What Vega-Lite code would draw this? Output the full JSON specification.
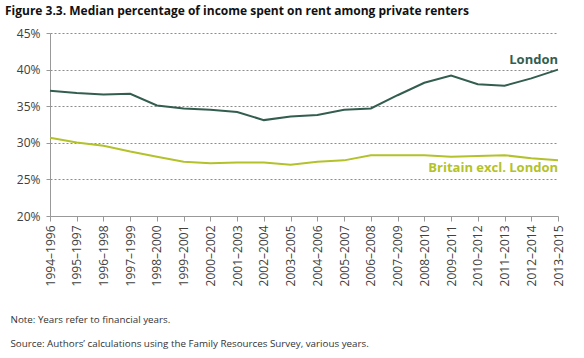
{
  "$schema": "https://vega.github.io/schema/vega-lite/v6.json",
  "width": 508,
  "height": 183,
  "autosize": {"type": "none"},
  "padding": {"left": 50, "top": 33, "right": 26, "bottom": 142},
  "background": "white",
  "config": {
    "view": {"stroke": null},
    "font": "Open Sans"
  },
  "title": {
    "text": "Figure 3.3. Median percentage of income spent on rent among private renters",
    "anchor": "start",
    "frame": "group",
    "dx": -45,
    "fontSize": 12,
    "fontWeight": "bold",
    "font": "Open Sans",
    "color": "#111111",
    "offset": 9
  },
  "data": {
    "values": [
      {"period": "1994–1996", "series": "London", "value": 37.1},
      {"period": "1995–1997", "series": "London", "value": 36.8},
      {"period": "1996–1998", "series": "London", "value": 36.6},
      {"period": "1997–1999", "series": "London", "value": 36.7},
      {"period": "1998–2000", "series": "London", "value": 35.1},
      {"period": "1999–2001", "series": "London", "value": 34.7},
      {"period": "2000–2002", "series": "London", "value": 34.5},
      {"period": "2001–2003", "series": "London", "value": 34.2},
      {"period": "2002–2004", "series": "London", "value": 33.1},
      {"period": "2003–2005", "series": "London", "value": 33.6},
      {"period": "2004–2006", "series": "London", "value": 33.8},
      {"period": "2005–2007", "series": "London", "value": 34.5},
      {"period": "2006–2008", "series": "London", "value": 34.7},
      {"period": "2007–2009", "series": "London", "value": 36.5},
      {"period": "2008–2010", "series": "London", "value": 38.2},
      {"period": "2009–2011", "series": "London", "value": 39.2},
      {"period": "2010–2012", "series": "London", "value": 38.0},
      {"period": "2011–2013", "series": "London", "value": 37.8},
      {"period": "2012–2014", "series": "London", "value": 38.8},
      {"period": "2013–2015", "series": "London", "value": 40.0},
      {"period": "1994–1996", "series": "Britain excl. London", "value": 30.7},
      {"period": "1995–1997", "series": "Britain excl. London", "value": 30.05},
      {"period": "1996–1998", "series": "Britain excl. London", "value": 29.6},
      {"period": "1997–1999", "series": "Britain excl. London", "value": 28.8},
      {"period": "1998–2000", "series": "Britain excl. London", "value": 28.1},
      {"period": "1999–2001", "series": "Britain excl. London", "value": 27.4},
      {"period": "2000–2002", "series": "Britain excl. London", "value": 27.2},
      {"period": "2001–2003", "series": "Britain excl. London", "value": 27.3},
      {"period": "2002–2004", "series": "Britain excl. London", "value": 27.3},
      {"period": "2003–2005", "series": "Britain excl. London", "value": 27.0},
      {"period": "2004–2006", "series": "Britain excl. London", "value": 27.4},
      {"period": "2005–2007", "series": "Britain excl. London", "value": 27.6},
      {"period": "2006–2008", "series": "Britain excl. London", "value": 28.3},
      {"period": "2007–2009", "series": "Britain excl. London", "value": 28.3},
      {"period": "2008–2010", "series": "Britain excl. London", "value": 28.3},
      {"period": "2009–2011", "series": "Britain excl. London", "value": 28.1},
      {"period": "2010–2012", "series": "Britain excl. London", "value": 28.2},
      {"period": "2011–2013", "series": "Britain excl. London", "value": 28.3},
      {"period": "2012–2014", "series": "Britain excl. London", "value": 27.9},
      {"period": "2013–2015", "series": "Britain excl. London", "value": 27.6}
    ]
  },
  "encoding": {
    "x": {
      "field": "period",
      "type": "ordinal",
      "sort": null,
      "scale": {"type": "point", "padding": 0},
      "axis": {
        "title": ["Note: Years refer to financial years.", "Source: Authors’ calculations using the Family Resources Survey, various years."],
        "titleAnchor": "start",
        "titleAlign": "left",
        "titleBaseline": "alphabetic",
        "titleX": -40,
        "titleY": 106,
        "titleFontSize": 9.8,
        "titleFontWeight": "normal",
        "titleColor": "#333333",
        "titleFont": "Open Sans",
        "titleLineHeight": 24,
        "labelAngle": -90,
        "labelFontSize": 12,
        "labelColor": "#404040",
        "labelPadding": 4,
        "domainColor": "#999999",
        "tickColor": "#999999",
        "tickSize": 5,
        "grid": false
      }
    },
    "y": {
      "field": "value",
      "type": "quantitative",
      "scale": {"domain": [20, 45], "nice": false, "zero": false},
      "axis": {
        "title": null,
        "values": [20, 25, 30, 35, 40, 45],
        "labelExpr": "datum.value + '%'",
        "labelFontSize": 12,
        "labelColor": "#404040",
        "labelPadding": 6,
        "domainColor": "#999999",
        "tickColor": "#999999",
        "tickSize": 4,
        "grid": true,
        "gridColor": "#8c8c8c",
        "gridDash": [2, 2],
        "gridWidth": 1
      }
    },
    "color": {
      "field": "series",
      "type": "nominal",
      "scale": {"domain": ["London", "Britain excl. London"], "range": ["#335e4f", "#b3c22b"]},
      "legend": null
    }
  },
  "layer": [
    {
      "mark": {"type": "line", "strokeWidth": 2}
    },
    {
      "transform": [{"filter": "datum.period === '2013–2015' && datum.series === 'London'"}],
      "mark": {"type": "text", "align": "right", "baseline": "alphabetic", "dy": -6, "fontSize": 13, "fontWeight": "bold", "font": "Open Sans"},
      "encoding": {"text": {"field": "series"}}
    },
    {
      "transform": [{"filter": "datum.period === '2013–2015' && datum.series === 'Britain excl. London'"}],
      "mark": {"type": "text", "align": "right", "baseline": "alphabetic", "dy": 12, "fontSize": 13, "fontWeight": "bold", "font": "Open Sans"},
      "encoding": {"text": {"field": "series"}}
    }
  ]
}
